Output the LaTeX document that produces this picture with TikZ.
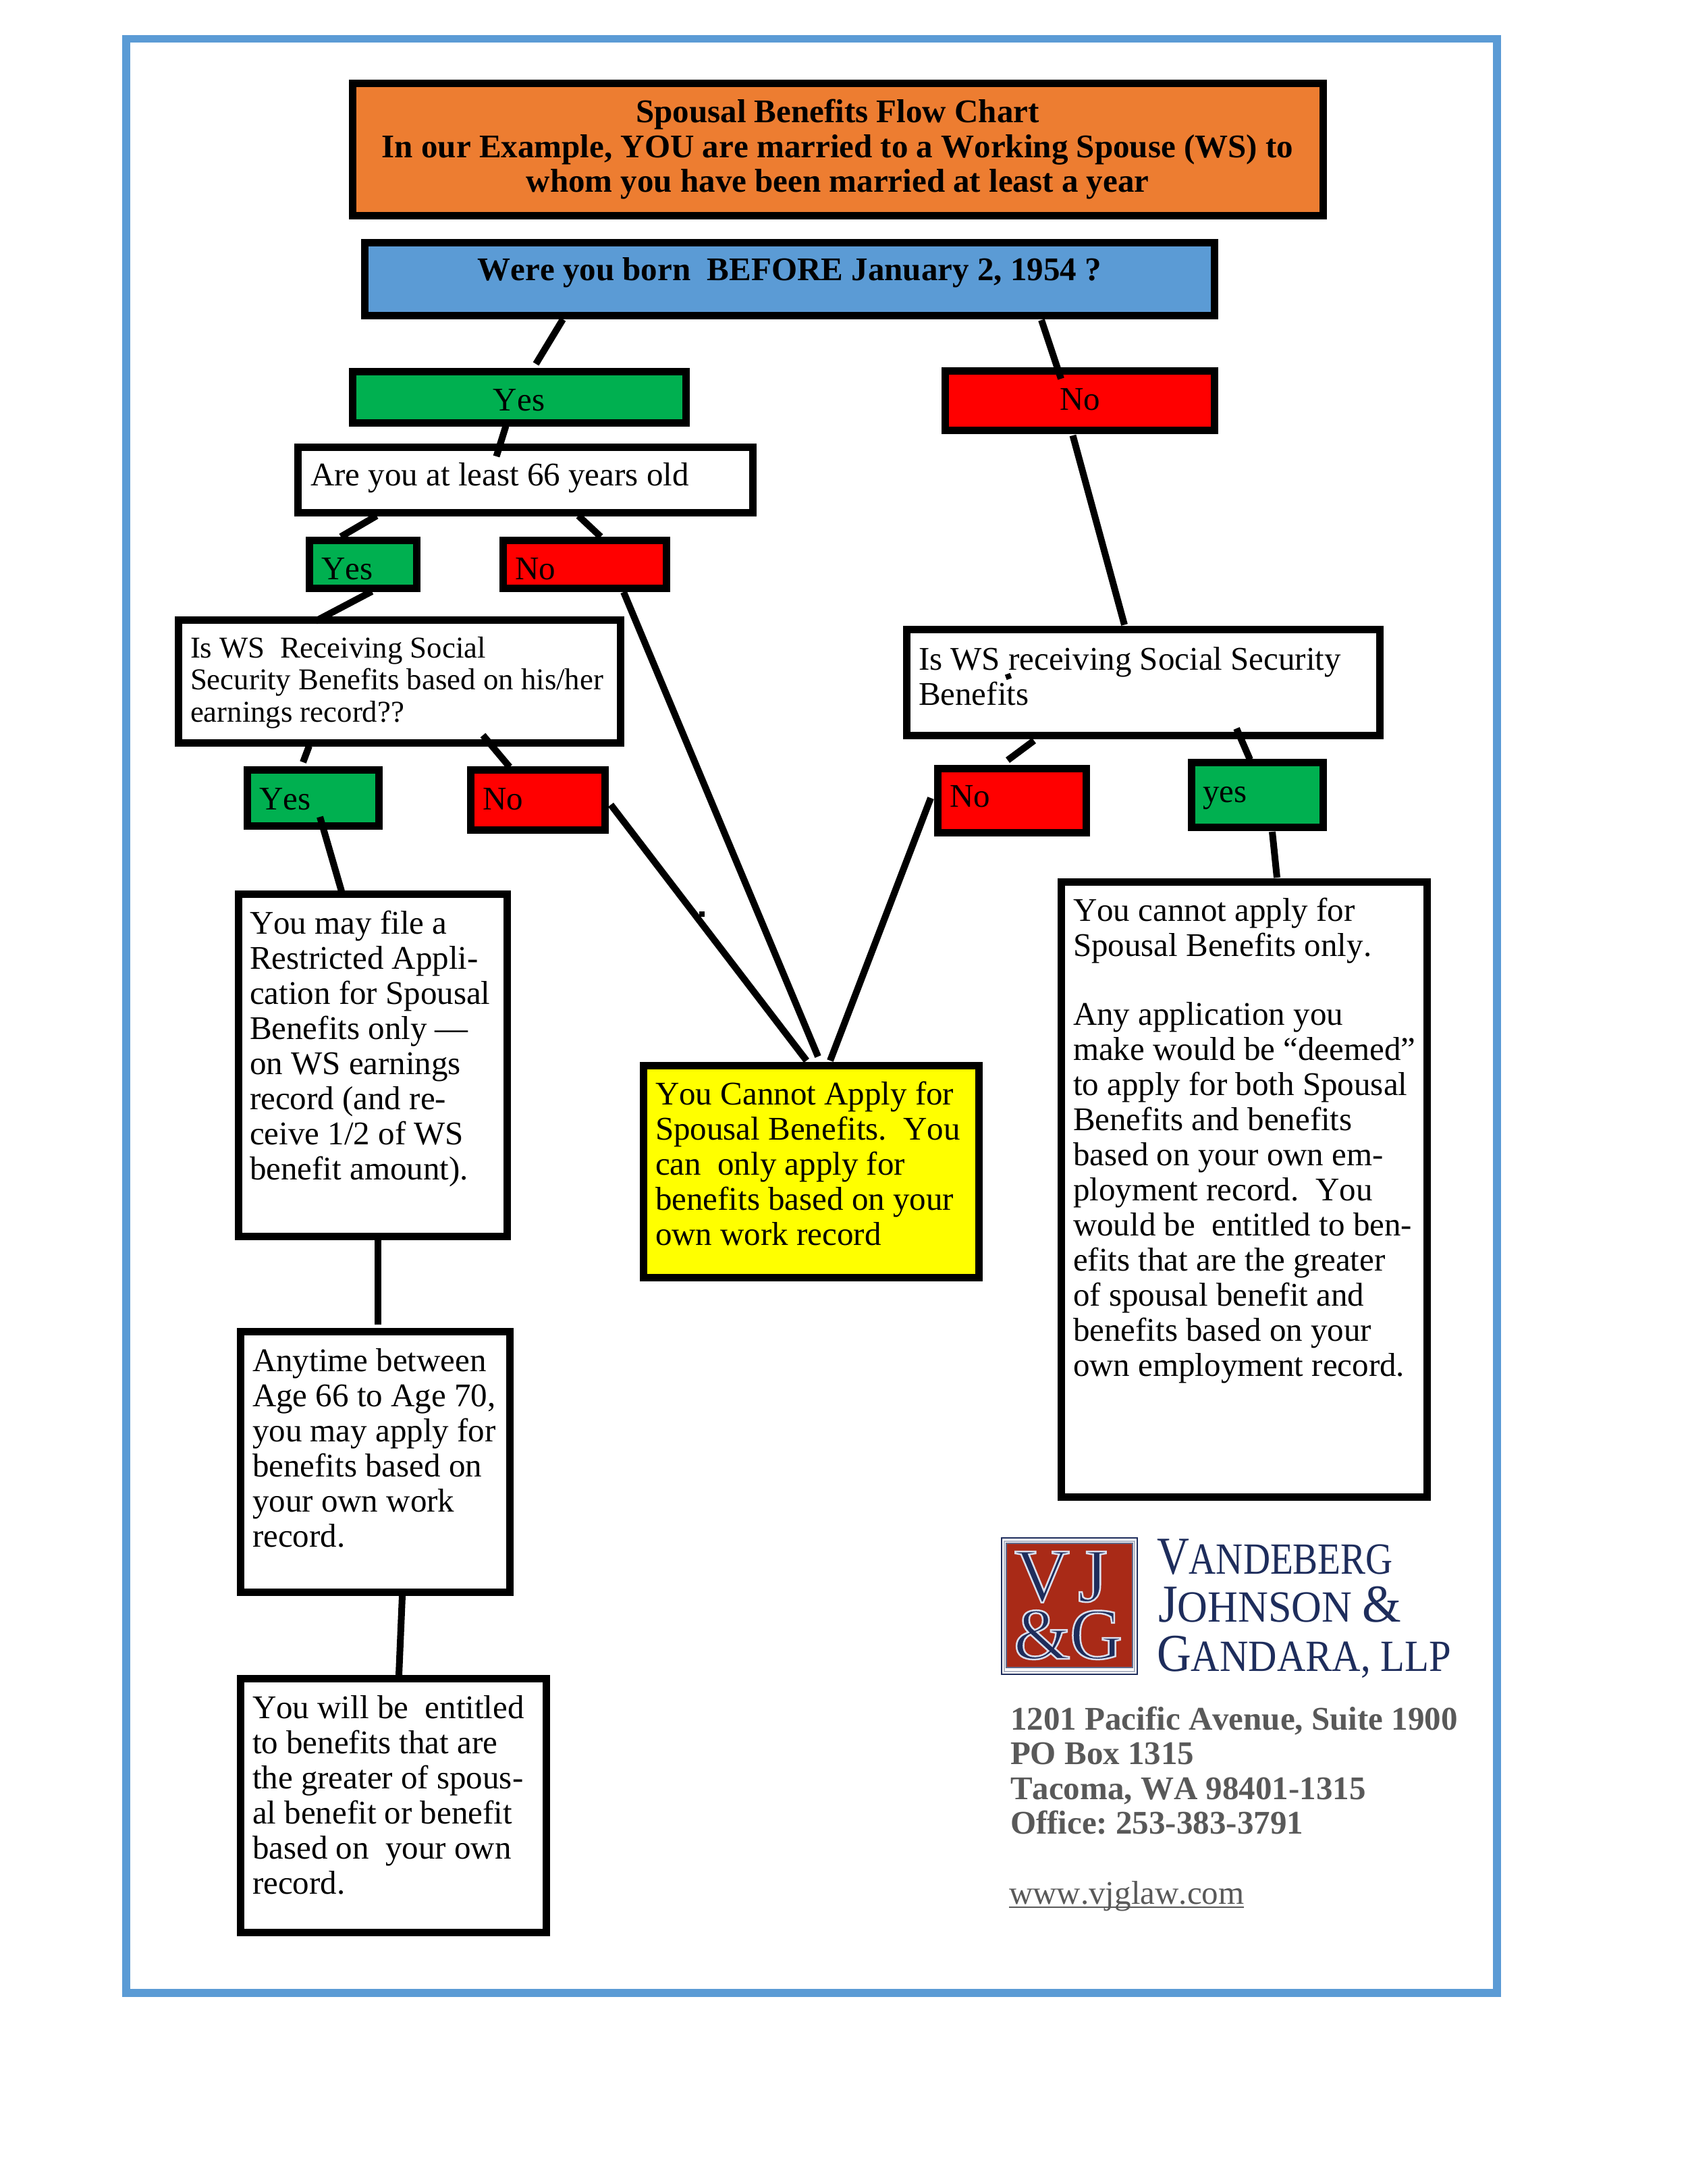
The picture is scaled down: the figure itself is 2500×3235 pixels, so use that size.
\documentclass[tikz,border=0pt]{standalone}
\usepackage{fontspec}
\setmainfont[Kerning=Off]{Liberation Serif}
\frenchspacing
\usetikzlibrary{calc}
\definecolor{frameblue}{HTML}{5B9BD5}
\definecolor{boxorange}{HTML}{ED7D31}
\definecolor{boxgreen}{HTML}{00B050}
\definecolor{boxred}{RGB}{255,0,0}
\definecolor{boxyellow}{RGB}{255,255,0}
\definecolor{logored}{HTML}{A92A17}
\definecolor{logonavy}{HTML}{1E2D5C}
\definecolor{addrgray}{HTML}{595959}
\tikzset{
  flowbox/.style={draw=black,line width=11pt,inner sep=0pt,outer sep=0pt,anchor=center,fill=white},
  connector/.style={draw=black,line width=10pt},
  plain/.style={inner sep=0pt,outer sep=0pt,anchor=base west},
}
\newcommand\bodyf{\fontsize{49}{52}\selectfont}
\newcommand\wsf{\fontsize{44.8}{47.5}\selectfont}
\newcommand\titlef{\fontsize{49}{51.5}\selectfont\bfseries}
% name, x0, y0, x1, y1, fill, left pad, first baseline, text
\newcommand\fbx[9]{%
  \pgfmathsetmacro\cxx{(#2+#4)/2}\pgfmathsetmacro\cyy{(#3+#5)/2}%
  \pgfmathsetmacro\www{#4-#2}\pgfmathsetmacro\hhh{#5-#3}%
  \pgfmathsetmacro\fbb{#8-#3}%
  \node[flowbox,fill=#6] (#1) at (\cxx,\cyy)
    {\parbox[c][\hhh pt][t]{\www pt}{\leftskip=#7pt\rightskip=0pt plus 1fil\relax\rule{0pt}{\fbb pt}#9}};}
\newcommand\conn[4]{\draw[connector] ($(#1)+(#2)$) -- ($(#3)+(#4)$);}
\begin{document}
\begin{tikzpicture}[x=1pt,y=-1pt]
\useasboundingbox (0,0) rectangle (2500,3235);
\fill[white] (0,0) rectangle (2500,3235);
\node[draw=frameblue,line width=11.5pt,inner sep=0pt,outer sep=0pt,anchor=north west,minimum width=2031pt,minimum height=2894.5pt] (frame) at (187,57.5) {};

\fbx{title}{522}{124}{1960}{319}{boxorange}{0}{182}{\titlef\centering Spousal Benefits Flow Chart\\In our Example, YOU are married to a Working Spouse (WS) to\\whom you have been married at least a year}
\fbx{born}{540}{359}{1799.5}{467}{frameblue}{0}{415}{\titlef\centering Were you born~~BEFORE January 2, 1954 ?}
\fbx{yesa}{522}{550}{1016}{626}{boxgreen}{0}{608}{\bodyf\centering Yes}
\fbx{noa}{1400.5}{549}{1799.5}{637}{boxred}{0}{607}{\bodyf\centering No}
\fbx{age}{441}{662}{1115}{759}{white}{19}{719}{\bodyf Are you at least 66 years old}
\fbx{yesb}{458}{800}{617}{871}{boxgreen}{18}{858}{\bodyf Yes}
\fbx{nob}{745}{800}{987}{871}{boxred}{18}{858}{\bodyf No}
\fbx{wsl}{264.5}{918}{919}{1100}{white}{17.5}{974}{\wsf Is WS~~Receiving Social\\Security Benefits based on his/her\\earnings record??}
\fbx{yesc}{366.5}{1140.5}{561.5}{1223.5}{boxgreen}{17.5}{1199}{\bodyf Yes}
\fbx{noc}{697}{1140.5}{896}{1229.5}{boxred}{18.5}{1199}{\bodyf No}
\fbx{wsr}{1343.5}{932.5}{2044}{1089}{white}{17.5}{992}{\bodyf Is WS receiving Social Security\\Benefits}
\fbx{nod}{1389}{1138}{1609}{1233.5}{boxred}{18}{1195}{\bodyf No}
\fbx{yesd}{1765.5}{1129.5}{1960}{1225.5}{boxgreen}{16.5}{1188}{\bodyf yes}
\fbx{restricted}{353}{1324.5}{751.5}{1831.5}{white}{17}{1383}{\bodyf You may file a\\Restricted Appli-\\cation for Spousal\\Benefits only ---\\on WS earnings\\record (and re-\\ceive 1/2 of WS\\benefit amount).}
\fbx{anytime}{356.5}{1972.5}{755.5}{2358.5}{white}{17.5}{2031}{\bodyf Anytime between\\Age 66 to Age 70,\\you may apply for\\benefits based on\\your own work\\record.}
\fbx{entitled}{356.5}{2486.5}{809.5}{2862}{white}{17.5}{2545}{\bodyf You will be~~entitled\\to benefits that are\\the greater of spous-\\al benefit or benefit\\based on~~your own\\record.}
\fbx{cannot}{953.5}{1578}{1450.5}{1892}{boxyellow}{17.5}{1636}{\bodyf You Cannot Apply for\\Spousal Benefits.~~You\\can~~only apply for\\benefits based on your\\own work record}
\fbx{deemed}{1572.5}{1306}{2114.5}{2217}{white}{17.5}{1364}{\bodyf You cannot apply for\\Spousal Benefits only.\\[50pt]Any application you\\make would be “deemed”\\to apply for both Spousal\\Benefits and benefits\\based on your own em-\\ployment record.~~You\\would be~~entitled to ben-\\efits that are the greater\\of spousal benefit and\\benefits based on your\\own employment record.}

\conn{born.south west}{294,6}{yesa.north west}{272,-11}
\conn{born.south west}{1003,7}{noa.north west}{171.5,12}
\conn{yesa.south west}{227.5,5}{age.north west}{294.5,14}
\conn{age.south west}{117,5}{yesb.north west}{47,-5}
\conn{age.south west}{416,5}{nob.north west}{145,-5}
\conn{yesb.south west}{93,5}{wsl.north west}{203,2}
\conn{nob.south west}{179,6}{cannot.north west}{258.5,-13}
\conn{wsl.south west}{193.5,5}{yesc.north west}{82.5,-11.5}
\conn{wsl.south west}{451,-11}{noc.north west}{58,-4.5}
\conn{yesc.south west}{107.5,-13.5}{restricted.north west}{153,-4.5}
\conn{noc.south east}{9,-37.5}{cannot.north west}{241.5,-7}
\conn{nod.south west}{-10,-51.5}{cannot.north west}{276.5,-7}
\conn{restricted.south west}{207,5.5}{anytime.north west}{203.5,-10.5}
\conn{anytime.south west}{239.5,5.5}{entitled.north west}{234.5,-5.5}
\conn{noa.south west}{189,8}{wsr.north west}{322.5,-7}
\conn{wsr.south west}{188.5,8}{nod.north west}{104,-12}
\conn{wsr.south west}{488.5,-10}{yesd.north west}{86.5,-4.5}
\conn{yesd.south west}{119.5,6.5}{deemed.north west}{319.5,-6}
\fill[black] (1036,1350) rectangle (1044,1358);
\fill[black,rotate around={20:(1494,1002)}] (1490,998) rectangle (1498,1006);

% logo
\draw[logonavy,line width=2.5pt,fill=white] (1484,2278) rectangle (1685,2480);
\fill[logonavy!35] (1487,2282) rectangle (1682,2477);
\fill[white] (1489,2284) rectangle (1680,2475);
\draw[logonavy!70,line width=2pt,fill=logored] (1491,2286) rectangle (1677.5,2470);
\newcommand\logochar[1]{\special{pdf:code q 2 Tr 2.5 w 0.85 0.87 0.93 RG}#1\special{pdf:code Q}}
\node[plain,anchor=base,text=logonavy,font=\fontsize{113}{113}\selectfont] (logov) at (1544,2372) {\logochar{V}};
\node[plain,anchor=base,text=logonavy,font=\fontsize{113}{113}\selectfont] (logoj) at (1619,2372) {\logochar{J}};
\node[plain,anchor=base,text=logonavy,font=\fontsize{108}{108}\selectfont] (logoa) at (1544,2457) {\logochar{\&}};
\node[plain,anchor=base,text=logonavy,font=\fontsize{108}{108}\selectfont] (logog) at (1624,2457) {\logochar{G}};
\newcommand\lgbig{\fontsize{79}{79}\selectfont}
\newcommand\lgsmall{\fontsize{66}{66}\selectfont}
\node[plain,text=logonavy] (logoa1) at (1714,2331) {\scalebox{0.84}[1]{\lgsmall{\lgbig V}ANDEBERG}};
\node[plain,text=logonavy] (logoa2) at (1716,2402) {\scalebox{0.94}[1]{\lgsmall{\lgbig J}OHNSON {\lgbig\&}}};
\node[plain,text=logonavy] (logoa3) at (1714,2475) {\scalebox{0.89}[1]{\lgsmall{\lgbig G}ANDARA, LLP}};

\node[plain,text=addrgray,font=\fontsize{49}{51.5}\selectfont\bfseries] (addr1) at (1497,2562) {1201 Pacific Avenue, Suite 1900};
\node[plain,text=addrgray,font=\fontsize{49}{51.5}\selectfont\bfseries] (addr2) at (1497,2613) {PO Box 1315};
\node[plain,text=addrgray,font=\fontsize{49}{51.5}\selectfont\bfseries] (addr3) at (1497,2665) {Tacoma, WA 98401-1315};
\node[plain,text=addrgray,font=\fontsize{49}{51.5}\selectfont\bfseries] (addr4) at (1497,2716) {Office: 253-383-3791};
\node[plain,text=addrgray,font=\bodyf] (web) at (1495,2820) {www.vjglaw.com};
\draw[addrgray,line width=2.5pt] (web.base west)++(0,5) -- ($(web.base east)+(0,5)$);
\end{tikzpicture}
\end{document}
